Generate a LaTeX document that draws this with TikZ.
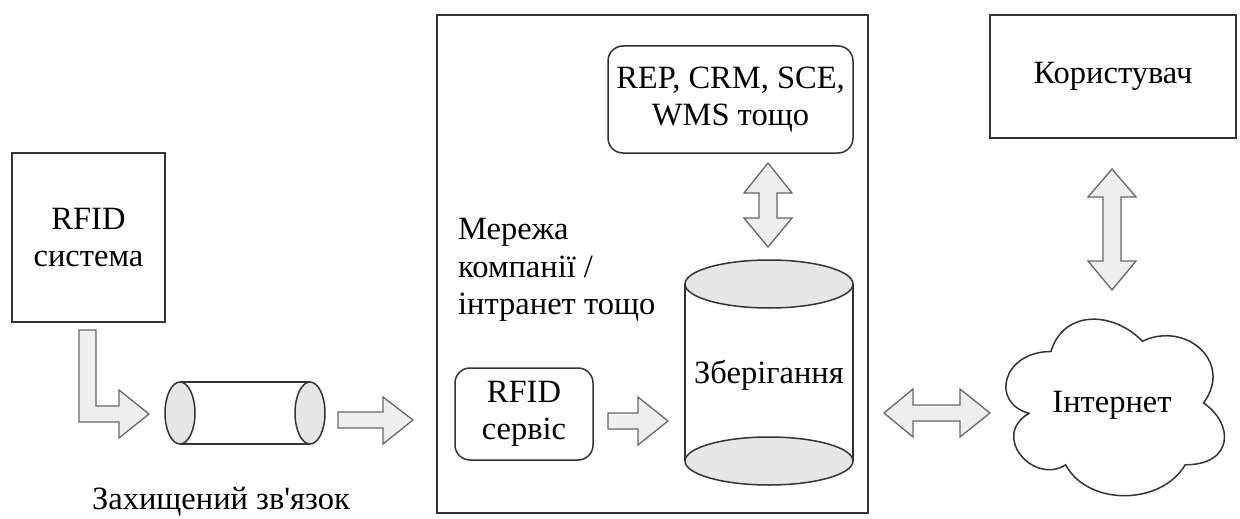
\documentclass[tikz,border=0pt]{standalone}
\usepackage{fontspec}
\newfontfamily\diagfont{Liberation Serif}
\definecolor{boxline}{HTML}{333333}
\definecolor{arrowline}{HTML}{666666}
\definecolor{arrowfill}{HTML}{EEEEEE}
\definecolor{discfill}{HTML}{E6E6E6}
\begin{document}
\begin{tikzpicture}[x=1pt,y=-1pt,
  every node/.style={font=\diagfont\fontsize{32.5}{37.5}\selectfont, align=center, inner sep=0pt},
  plainbox/.style={draw=boxline, line width=1.5pt},
  roundbox/.style={plainbox, rounded corners=15pt},
  blockarrow/.style={draw=arrowline, fill=arrowfill, line width=1.3pt, line join=miter},
  disc/.style={draw=boxline, fill=discfill, line width=1.5pt}]
\useasboundingbox (0,0) rectangle (1240,519);

% boxes
\node[plainbox, minimum width=153pt, minimum height=169pt] (rfid) at (88.5,237.5) {RFID\\система};
\node[plainbox, minimum width=431pt, minimum height=498pt] (net) at (652.5,264) {};
\node[roundbox, minimum width=245pt, minimum height=107pt] (apps) at (730.5,99.5) {REP, CRM, SCE,\\WMS тощо};
\node[roundbox, minimum width=138pt, minimum height=92pt] (svc) at (524,414) {RFID\\сервіс};
\node[plainbox, minimum width=246pt, minimum height=123pt] (user) at (1113,76.5) {Користувач};
\node[anchor=west, align=left] (netlabel) at (458,270) {Мережа\\компанії /\\інтранет тощо};
\node (secure) at (221,502) {Захищений зв'язок};

% secure channel (horizontal pipe)
\draw[plainbox] (180,382) -- (310,382) (180,444) -- (310,444);
\draw[disc] (180,413) ellipse [x radius=15, y radius=31];
\draw[disc] (310,413) ellipse [x radius=15, y radius=31];

% storage cylinder
\draw[plainbox] (685,284) -- (685,461) (853,284) -- (853,461);
\draw[disc] (769,461) ellipse [x radius=84, y radius=24];
\draw[disc] (769,284) ellipse [x radius=84, y radius=24];
\node (store) at (769,375) {Зберігання};

% internet cloud
\begin{scope}[shift={(990,300)}, x=244pt, y=-206pt]
\draw[plainbox, fill=white] (0.25,0.25)
  .. controls (0.05,0.25) and (0,0.5) .. (0.16,0.55)
  .. controls (0,0.66) and (0.18,0.9) .. (0.31,0.8)
  .. controls (0.4,1) and (0.7,1) .. (0.8,0.8)
  .. controls (1,0.8) and (1,0.6) .. (0.875,0.5)
  .. controls (1,0.3) and (0.8,0.1) .. (0.625,0.2)
  .. controls (0.5,0.05) and (0.3,0.05) .. (0.25,0.25) -- cycle;
\end{scope}
\node (web) at (1112,405) {Інтернет};

% block arrows
\draw[blockarrow] (79,330) -- (96,330) -- (96,406) -- (119,406) -- (119,390) -- (149,414)
  -- (119,438) -- (119,422) -- (79,422) -- cycle;
\draw[blockarrow] (338,412) -- (383,412) -- (383,397) -- (413,420) -- (383,444) -- (383,428)
  -- (338,428) -- cycle;
\draw[blockarrow] (608,413) -- (638,413) -- (638,397) -- (668,421) -- (638,445) -- (638,429)
  -- (608,429) -- cycle;
\draw[blockarrow] (884,413) -- (913,389) -- (913,405) -- (960,405) -- (960,389) -- (990,413)
  -- (960,437) -- (960,421) -- (913,421) -- (913,437) -- cycle;
\draw[blockarrow] (768,163) -- (792,193) -- (777,193) -- (777,218) -- (792,218) -- (768,247)
  -- (744,218) -- (759,218) -- (759,193) -- (744,193) -- cycle;
\draw[blockarrow] (1112,169) -- (1136,197) -- (1121,197) -- (1121,261) -- (1136,261) -- (1112,290)
  -- (1088,261) -- (1103,261) -- (1103,197) -- (1088,197) -- cycle;
\end{tikzpicture}
\end{document}
